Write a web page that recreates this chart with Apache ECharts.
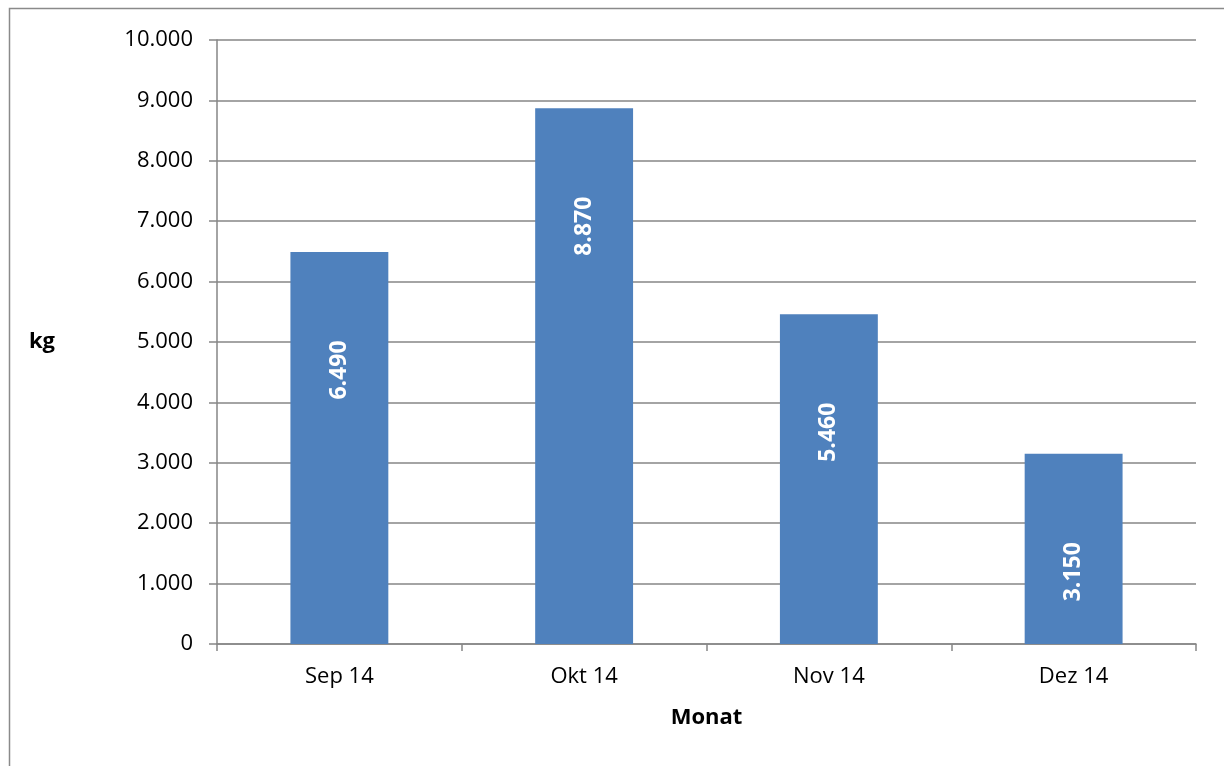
<!DOCTYPE html>
<html>
<head>
<meta charset="utf-8">
<script src="https://cdn.jsdelivr.net/npm/echarts@6/dist/echarts.min.js"></script>
<style>
html,body{margin:0;padding:0;background:#fff;}
#c{width:1224px;height:766px;}
</style>
</head>
<body>
<div id="c"></div>
<script>
var categories = ['Sep 14', 'Okt 14', 'Nov 14', 'Dez 14'];
var values = [6490, 8870, 5460, 3150];
var yTicks = [0, 1000, 2000, 3000, 4000, 5000, 6000, 7000, 8000, 9000, 10000];
var yAxisTitle = 'kg';
var xAxisTitle = 'Monat';

function fmt(v) {
  return String(v).replace(/\B(?=(\d{3})+(?!\d))/g, '.');
}

var FONT = '"Open Sans", sans-serif';
var chart = echarts.init(document.getElementById('c'), null, {renderer: 'canvas'});
chart.setOption({
  backgroundColor: '#ffffff',
  animation: false,
  textStyle: {fontFamily: FONT},
  graphic: [{
    type: 'rect', z: -10, silent: true,
    shape: {x: 9.5, y: 8.5, width: 1400, height: 1000},
    style: {fill: 'none', stroke: '#8a8a8a', lineWidth: 1.5}
  }],
  grid: {left: 217, right: 28, top: 40, bottom: 122},
  xAxis: {
    type: 'category',
    data: categories,
    name: xAxisTitle,
    nameLocation: 'middle',
    nameGap: 63,
    nameTextStyle: {fontFamily: FONT, fontSize: 22, fontWeight: 'bold', color: '#000'},
    axisLine: {lineStyle: {color: '#868686', width: 1.5}},
    axisTick: {show: true, length: 7, lineStyle: {color: '#868686', width: 1.5}},
    axisLabel: {fontFamily: FONT, fontSize: 22, color: '#000', margin: 22}
  },
  yAxis: {
    type: 'value',
    min: yTicks[0],
    max: yTicks[yTicks.length - 1],
    interval: yTicks[1] - yTicks[0],
    name: yAxisTitle,
    nameLocation: 'middle',
    nameRotate: 0,
    nameGap: 162,
    nameTextStyle: {fontFamily: FONT, fontSize: 22, fontWeight: 'bold', color: '#000'},
    axisLine: {show: true, lineStyle: {color: '#868686', width: 1.5}},
    axisTick: {show: true, length: 8, lineStyle: {color: '#868686', width: 1.5}},
    axisLabel: {fontFamily: FONT, fontSize: 22, color: '#000', margin: 24, formatter: fmt},
    splitLine: {show: true, lineStyle: {color: '#868686', width: 1.5}}
  },
  series: [{
    type: 'bar',
    data: values,
    barWidth: '40%',
    itemStyle: {color: '#4f81bd'},
    label: {
      show: true,
      position: ['50%', 118],
      rotate: 90,
      align: 'center',
      verticalAlign: 'middle',
      color: '#ffffff',
      fontFamily: FONT,
      fontSize: 23,
      fontWeight: 'bold',
      formatter: function (p) { return fmt(p.value); }
    }
  }]
});
</script>
</body>
</html>
